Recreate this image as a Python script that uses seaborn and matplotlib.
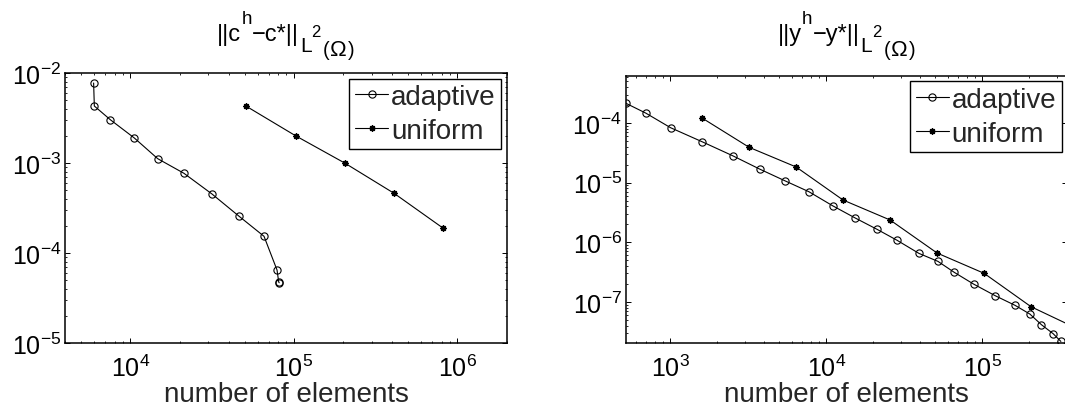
import numpy as np
import pandas as pd
import matplotlib
matplotlib.use("Agg")
import matplotlib.pyplot as plt
from matplotlib.ticker import LogLocator, NullFormatter
from matplotlib.transforms import IdentityTransform
import seaborn as sns

# ---- control error ||c^h - c*|| ----
c_adaptive_n = [5960, 6020, 7540, 10570, 14690, 21270, 31550, 45960, 65640, 78840, 80720, 81300]
c_adaptive_err = [7.74e-3, 4.30e-3, 3.03e-3, 1.90e-3, 1.12e-3, 7.7e-4, 4.54e-4, 2.59e-4,
                  1.54e-4, 6.5e-5, 4.79e-5, 4.7e-5]
c_uniform_n = [51200, 102400, 204800, 409600, 819200]
c_uniform_err = [4.27e-3, 2.01e-3, 1.0e-3, 4.62e-4, 1.89e-4]

# ---- state error ||y^h - y*|| ----
y_adaptive_n = [520, 695, 1004, 1596, 2506, 3732, 5397, 7732, 10950, 15300, 21080, 28330,
                39160, 51800, 65900, 87600, 120500, 161800, 201200, 238800, 283800, 317800]
y_adaptive_err = [2.14e-4, 1.47e-4, 8.34e-5, 4.86e-5, 2.83e-5, 1.69e-5, 1.08e-5, 7.03e-6,
                  4.1e-6, 2.55e-6, 1.65e-6, 1.08e-6, 6.5e-7, 4.78e-7, 3.13e-7, 1.99e-7,
                  1.27e-7, 8.73e-8, 6.24e-8, 4.13e-8, 2.92e-8, 2.17e-8]
y_uniform_n = [1600, 3200, 6400, 12800, 25600, 51200, 102400, 204800, 409600]
y_uniform_err = [1.21e-4, 3.91e-5, 1.83e-5, 5.1e-6, 2.36e-6, 6.59e-7, 3.01e-7, 8.28e-8, 3.5e-8]

series_labels = ["adaptive", "uniform"]
xlabel_text = "number of elements"

# Title pieces: (text, font size in pt, baseline shift in px, extra gap after in px)
def norm_title(var):
    return [
        ("||" + var, 17.0, 0.0, 0.0),
        ("h", 13.5, 17.5, 0.0),
        ("\u2212" + var + "*||", 17.0, 0.0, 1.0),
        ("L", 15.0, -10.5, 0.0),
        ("2", 12.0, 4.3, 2.0),
        ("(", 14.5, -14.6, 1.0),
        ("\u03a9", 16.0, -14.6, 1.0),
        (")", 14.5, -14.6, 0.0),
    ]

sns.set_style("ticks")
plt.rcParams.update({
    "font.family": ["Liberation Sans", "DejaVu Sans"],
    "mathtext.fontset": "custom",
    "mathtext.rm": "Liberation Sans",
    "mathtext.it": "Liberation Sans:italic",
    "mathtext.bf": "Liberation Sans:bold",
    "mathtext.sf": "Liberation Sans",
    "mathtext.default": "regular",
    "axes.linewidth": 1.1,
    "axes.edgecolor": "black",
})

fig = plt.figure(figsize=(10.65, 4.14), dpi=100)
ax_c = fig.add_axes([0.06131, 0.16836, 0.41446, 0.65290])
ax_y = fig.add_axes([0.58779, 0.16908, 0.41446, 0.64565])


def draw_panel(ax, n_a, e_a, n_u, e_u):
    df_a = pd.DataFrame({"n": n_a, "err": e_a})
    df_u = pd.DataFrame({"n": n_u, "err": e_u})
    sns.lineplot(data=df_a, x="n", y="err", ax=ax, color="black", estimator=None, sort=False,
                 marker="o", markersize=5.2, markerfacecolor="none", markeredgecolor="black",
                 markeredgewidth=0.8, linewidth=0.8, label=series_labels[0])
    sns.lineplot(data=df_u, x="n", y="err", ax=ax, color="black", estimator=None, sort=False,
                 marker=(8, 2, 0), markersize=4.5, markeredgecolor="black",
                 markeredgewidth=1.0, linewidth=0.8, label=series_labels[1])
    ax.set_xscale("log")
    ax.set_yscale("log")
    ax.xaxis.set_minor_locator(LogLocator(base=10, subs=np.arange(2, 10), numticks=20))
    ax.yaxis.set_minor_locator(LogLocator(base=10, subs=np.arange(2, 10), numticks=20))
    ax.xaxis.set_minor_formatter(NullFormatter())
    ax.yaxis.set_minor_formatter(NullFormatter())
    ax.tick_params(which="both", direction="in", top=True, right=True, labelsize=18,
                   color="black", labelcolor="black")
    ax.tick_params(which="major", length=3.4, width=0.7)
    ax.tick_params(which="minor", length=1.7, width=0.6)
    ax.tick_params(axis="x", which="major", pad=8)
    ax.tick_params(axis="y", which="major", pad=3)
    for s in ax.spines.values():
        s.set_visible(True)
        s.set_linewidth(1.1)
    ax.set_xlabel(xlabel_text, fontsize=20, labelpad=0)
    ax.set_ylabel("")
    leg = ax.legend(loc="upper right", fontsize=20, frameon=True, fancybox=False,
                    borderpad=0.2, labelspacing=0.28, handlelength=1.2, handletextpad=0.1,
                    borderaxespad=0.2)
    leg.get_frame().set_edgecolor("black")
    leg.get_frame().set_linewidth(1.0)
    leg.get_frame().set_alpha(1)


def draw_title(ax, pieces, baseline_px):
    """Lay out a title from text pieces with sub/superscript shifts, centred over ax."""
    renderer = fig.canvas.get_renderer()
    arts, widths = [], []
    for s, size, dy, gap in pieces:
        t = fig.text(0, 0, s, fontsize=size, ha="left", va="baseline",
                     transform=IdentityTransform(), color="black")
        widths.append(t.get_window_extent(renderer).width + gap)
        arts.append((t, dy))
    bb = ax.get_window_extent(renderer)
    x = (bb.x0 + bb.x1) / 2 - sum(widths) / 2
    for (t, dy), w in zip(arts, widths):
        t.set_position((x, baseline_px + dy))
        x += w


draw_panel(ax_c, c_adaptive_n, c_adaptive_err, c_uniform_n, c_uniform_err)
ax_c.set_xlim(4000, 2e6)
ax_c.set_ylim(1e-5, 1e-2)

draw_panel(ax_y, y_adaptive_n, y_adaptive_err, y_uniform_n, y_uniform_err)
ax_y.set_xlim(520, 3.5e5)
ax_y.set_ylim(2.04e-8, 6.22e-4)
ax_y.set_yticks([1e-7, 1e-6, 1e-5, 1e-4])

fig_h = fig.get_figheight() * fig.dpi
draw_title(ax_c, norm_title("c"), fig_h - 41)
draw_title(ax_y, norm_title("y"), fig_h - 41)

fig.savefig("out.png", dpi=100, facecolor="white")
